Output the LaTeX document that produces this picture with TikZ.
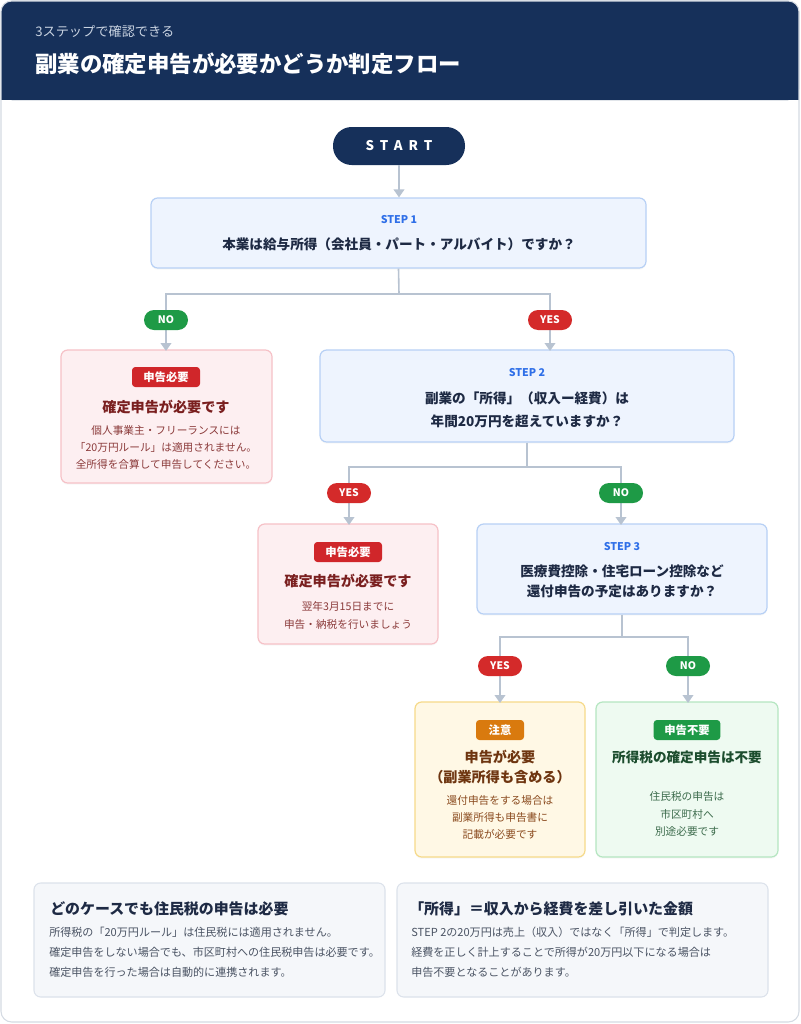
\documentclass[tikz,border=0pt]{standalone}
\usepackage{fontspec}
\setmainfont{Noto Sans CJK JP}
\newfontfamily\startfont[LetterSpace=45]{Noto Sans CJK JP}
\usetikzlibrary{arrows.meta,fit,shadows}
\definecolor{navy}{HTML}{16305A}
\definecolor{subt}{HTML}{C9D3E1}
\definecolor{lngray}{HTML}{B8C3D1}
\definecolor{stepfill}{HTML}{EEF4FE}
\definecolor{stepdraw}{HTML}{B7D0F5}
\definecolor{stepblue}{HTML}{2F6FE8}
\definecolor{qtext}{HTML}{1E2A44}
\definecolor{pillred}{HTML}{D42A2A}
\definecolor{pillgreen}{HTML}{1E9A46}
\definecolor{redfill}{HTML}{FDEFF1}
\definecolor{reddraw}{HTML}{F6C1C7}
\definecolor{redtag}{HTML}{D0262A}
\definecolor{redtitle}{HTML}{7A1F1F}
\definecolor{redbody}{HTML}{8B3A3A}
\definecolor{yelfill}{HTML}{FFF8E5}
\definecolor{yeldraw}{HTML}{F6DA8A}
\definecolor{yeltag}{HTML}{D97A0E}
\definecolor{yeltitle}{HTML}{6E3510}
\definecolor{yelbody}{HTML}{8A4A1E}
\definecolor{grnfill}{HTML}{EEFAF1}
\definecolor{grndraw}{HTML}{B5E6C1}
\definecolor{grntag}{HTML}{1E9A46}
\definecolor{grntitle}{HTML}{1C4D2E}
\definecolor{grnbody}{HTML}{3C6B4C}
\definecolor{notefill}{HTML}{F5F7FA}
\definecolor{notedraw}{HTML}{DCE2EB}
\definecolor{notebody}{HTML}{4A5363}
\definecolor{cardline}{HTML}{D5DBE3}
\newcommand\myfs[2]{\fontsize{#1}{#2}\selectfont}
\begin{document}
\begin{tikzpicture}[x=0.75pt,y=-0.75pt,
  boxbase/.style={rounded corners=5pt, line width=0.9pt, inner sep=0pt,
    drop shadow={opacity=0.06, shadow xshift=0pt, shadow yshift=-1.2pt}},
  stepbox/.style={boxbase, fill=stepfill, draw=stepdraw},
  redbox/.style={boxbase, fill=redfill, draw=reddraw},
  yelbox/.style={boxbase, fill=yelfill, draw=yeldraw},
  grnbox/.style={boxbase, fill=grnfill, draw=grndraw},
  notebox/.style={rounded corners=5pt, line width=0.8pt, inner sep=0pt, fill=notefill, draw=notedraw},
  ln/.style={draw=lngray, line width=1.2pt},
  arr/.style={ln, -{Triangle[width=8pt,length=6pt]}},
  pill/.style={rounded corners=7.5pt, minimum width=33pt, minimum height=15pt, inner sep=0pt,
    text=white, font=\bfseries\myfs{7.8}{9}},
  tag/.style={rounded corners=2.5pt, minimum height=15pt, inner sep=0pt, text=white,
    font=\bfseries\myfs{8.5}{10}},
  steplbl/.style={text=stepblue, font=\bfseries\myfs{8}{10}, inner sep=0pt},
  qtxt/.style={text=qtext, font=\bfseries\myfs{10.2}{17}, align=center, inner sep=0pt},
  ttxt/.style={font=\bfseries\myfs{10.6}{15}, align=center, inner sep=0pt},
  btxt/.style={font=\myfs{8}{12.4}, align=center, inner sep=0pt},
]
\useasboundingbox (0,0) rectangle (800,1024);
\fill[white] (0,0) rectangle (800,1024);
% card and header
\fill[white, rounded corners=8pt] (1,1) rectangle (799,1022);
\fill[navy, rounded corners=8pt] (1,1) rectangle (799,100);
\fill[navy] (1,50) rectangle (799,100);
\draw[cardline, line width=0.8pt, rounded corners=8pt] (1,1) rectangle (799,1022);
\node[anchor=west, text=subt, font=\myfs{9.9}{11}, inner sep=0pt] (sub) at (35,31) {3ステップで確認できる};
\node[anchor=west, text=white, font=\bfseries\myfs{16.8}{20}, inner sep=0pt] (ttl) at (35,64) {副業の確定申告が必要かどうか判定フロー};

% START
\node[fill=navy, rounded corners=14pt, minimum width=99pt, minimum height=28.5pt, inner sep=0pt,
  text=white, font=\startfont\bfseries\myfs{10}{12}] (start) at (399,146) {START};

% STEP 1
\node[stepbox, fit={(151,198) (646,268)}] (s1) {};
\node[steplbl] (s1l) at (399,220) {STEP 1};
\node[qtxt] (s1q) at (399,244) {本業は給与所得（会社員・パート・アルバイト）ですか？};

% NO-1 box
\node[redbox, fit={(61,350) (272,483)}] (r1) {};
\node[tag, fill=redtag, minimum width=51pt] (r1t) at (166,377) {申告必要};
\node[ttxt, text=redtitle] (r1h) at (166,407) {確定申告が必要です};
\node[btxt, text=redbody] (r1b) at (166,447.5) {個人事業主・フリーランスには\\「20万円ルール」は適用されません。\\全所得を合算して申告してください。};

% STEP 2
\node[stepbox, fit={(320,350) (734,442)}] (s2) {};
\node[steplbl] (s2l) at (527,373) {STEP 2};
\node[qtxt] (s2q) at (527,409.5) {副業の「所得」（収入ー経費）は\\年間20万円を超えていますか？};

% YES-2 box
\node[redbox, fit={(258,524) (438,644)}] (r2) {};
\node[tag, fill=redtag, minimum width=51pt] (r2t) at (348,552) {申告必要};
\node[ttxt, text=redtitle] (r2h) at (348,581) {確定申告が必要です};
\node[btxt, text=redbody, font=\myfs{8}{13.5}] (r2b) at (348,615) {翌年3月15日までに\\申告・納税を行いましょう};

% STEP 3
\node[stepbox, fit={(477,524) (767,614)}] (s3) {};
\node[steplbl] (s3l) at (622,547) {STEP 3};
\node[qtxt, font=\bfseries\myfs{10.2}{15}] (s3q) at (622,581) {医療費控除・住宅ローン控除など\\還付申告の予定はありますか？};

% caution box
\node[yelbox, fit={(415,702) (585,857)}] (c) {};
\node[tag, fill=yeltag, minimum width=36pt] (ct) at (500,730) {注意};
\node[ttxt, text=yeltitle] (ch) at (500,767) {申告が必要\\（副業所得も含める）};
\node[btxt, text=yelbody, font=\myfs{8}{12.75}] (cb) at (500,817) {還付申告をする場合は\\副業所得も申告書に\\記載が必要です};

% not needed box
\node[grnbox, fit={(596,702) (778,857)}] (g) {};
\node[tag, fill=grntag, minimum width=50pt] (gt) at (687,730) {申告不要};
\node[ttxt, text=grntitle, font=\bfseries\myfs{10.2}{15}] (gh) at (687,757) {所得税の確定申告は不要};
\node[btxt, text=grnbody, font=\myfs{8}{13}] (gb) at (687,814) {住民税の申告は\\市区町村へ\\別途必要です};

% connectors
\coordinate (j1) at (399,294);
\coordinate (j2) at (527,467);
\coordinate (j3) at (622,637);
\draw[arr] (start.south) -- (start.south |- s1.north);
\draw[ln] (s1.south) -- (j1);
\draw[ln] (j1) -| (166,320);
\draw[ln] (j1) -| (550,320);
\draw[arr] (166,320) -- (166,351);
\draw[arr] (550,320) -- (550,351);
\draw[ln] (s2.south) -- (j2);
\draw[ln] (j2) -| (349,493);
\draw[ln] (j2) -| (621,493);
\draw[arr] (349,493) -- (349,525);
\draw[arr] (621,493) -- (621,525);
\draw[ln] (s3.south) -- (j3);
\draw[ln] (j3) -| (500,666);
\draw[ln] (j3) -| (688,666);
\draw[arr] (500,666) -- (500,703);
\draw[arr] (688,666) -- (688,703);

% pills
\node[pill, fill=pillgreen] (no1) at (166,320) {NO};
\node[pill, fill=pillred] (yes1) at (550,320) {YES};
\node[pill, fill=pillred] (yes2) at (349,493) {YES};
\node[pill, fill=pillgreen] (no2) at (621,493) {NO};
\node[pill, fill=pillred] (yes3) at (500,666) {YES};
\node[pill, fill=pillgreen] (no3) at (688,666) {NO};

% bottom notes
\node[notebox, fit={(34,883) (385,997)}] (n1) {};
\node[anchor=west, text=qtext, font=\bfseries\myfs{11.2}{14}, inner sep=0pt] (n1h) at (50,909) {どのケースでも住民税の申告は必要};
\node[anchor=west, text=notebody, font=\myfs{8.3}{15}, align=left, inner sep=0pt] (n1b) at (49,952) {所得税の「20万円ルール」は住民税には適用されません。\\確定申告をしない場合でも、市区町村への住民税申告は必要です。\\確定申告を行った場合は自動的に連携されます。};
\node[notebox, fit={(397,883) (768,997)}] (n2) {};
\node[anchor=west, text=qtext, font=\bfseries\myfs{11.2}{14}, inner sep=0pt] (n2h) at (409,909) {「所得」＝収入から経費を差し引いた金額};
\node[anchor=west, text=notebody, font=\myfs{8.3}{15}, align=left, inner sep=0pt] (n2b) at (411,952) {STEP 2の20万円は売上（収入）ではなく「所得」で判定します。\\経費を正しく計上することで所得が20万円以下になる場合は\\申告不要となることがあります。};
\end{tikzpicture}
\end{document}
